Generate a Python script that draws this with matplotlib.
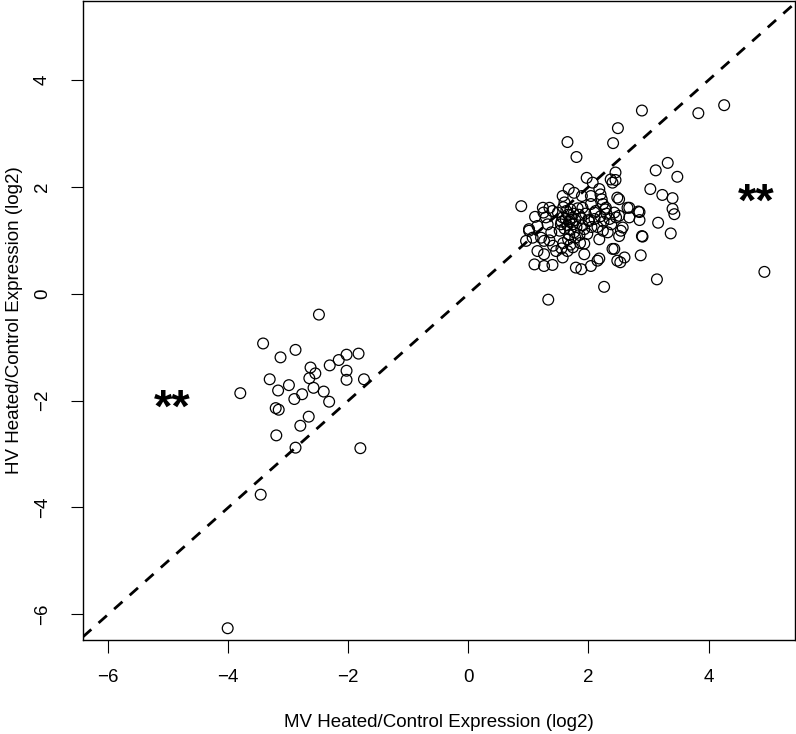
import matplotlib
matplotlib.use('Agg')
import matplotlib.pyplot as plt

# MV (x) vs HV (y) heated/control expression, log2
# down-regulated group
down_mv = [-2.49, -3.42, -2.88, -3.13, -1.83, -2.03, -2.16, -2.31, -2.63, -2.55,
           -2.65, -2.03, -2.03, -1.74, -3.31, -3.80, -2.99, -3.17, -2.77, -2.90,
           -2.58, -2.41, -2.32, -3.21, -3.16, -2.66, -2.80, -3.20, -2.88, -1.80,
           -3.46, -4.01]
down_hv = [-0.39, -0.93, -1.05, -1.19, -1.12, -1.14, -1.24, -1.34, -1.38, -1.49,
           -1.58, -1.44, -1.61, -1.60, -1.60, -1.86, -1.71, -1.81, -1.88, -1.97,
           -1.76, -1.83, -2.02, -2.14, -2.17, -2.30, -2.47, -2.65, -2.88, -2.89,
           -3.76, -6.26]

# up-regulated group
up_mv = [2.89, 3.83, 4.26, 2.49, 1.65, 2.41, 1.80, 3.32, 3.12, 3.48,
         2.45, 2.45, 2.37, 2.40, 1.97, 2.07, 3.03, 3.23, 3.40, 3.40,
         3.43, 2.85, 2.85, 2.68, 2.68, 3.16, 3.37, 2.89, 2.87, 3.14,
         4.93, 2.26, 1.33,
         1.58, 1.63, 1.70, 1.66, 1.75, 1.72, 1.62, 1.68, 1.78, 1.74,
         1.65, 1.80, 1.70, 1.60, 1.76, 1.68, 1.84, 1.82, 1.55, 1.52,
         1.88, 1.90, 1.95, 2.00, 2.05, 1.85, 1.78, 1.66, 1.58, 1.70,
         1.86, 1.98, 2.10, 2.12, 2.20, 2.25, 2.15, 2.28, 2.35, 2.38,
         2.30,
         1.11, 1.29, 1.40, 1.57, 1.24, 1.35, 1.25, 1.49, 1.15, 1.01,
         1.32, 1.38, 1.54, 0.88,
         1.01, 0.96, 1.07, 1.21, 1.26, 1.35, 1.41, 1.46, 1.15, 1.26,
         1.10, 1.26, 1.40, 1.57,
         1.74, 1.93, 1.79, 1.88, 2.04, 2.15, 2.18, 2.40, 2.48, 2.43,
         2.60, 2.53, 1.93, 2.18, 2.24, 2.32, 1.65, 1.55,
         2.51, 2.65, 2.83, 2.51, 2.46, 2.57, 2.54, 2.51, 2.90,
         1.67, 1.76, 1.89, 2.04, 2.18, 2.20, 2.22, 2.24, 2.48, 1.57,
         1.60, 1.90, 2.04, 2.10, 2.29, 2.43, 2.01, 1.93]
up_hv = [3.43, 3.38, 3.53, 3.10, 2.84, 2.82, 2.56, 2.45, 2.31, 2.19,
         2.27, 2.13, 2.14, 2.08, 2.17, 2.08, 1.96, 1.85, 1.79, 1.59,
         1.49, 1.53, 1.38, 1.61, 1.43, 1.33, 1.13, 1.08, 0.72, 0.27,
         0.41, 0.13, -0.11,
         1.62, 1.55, 1.58, 1.48, 1.50, 1.42, 1.40, 1.35, 1.38, 1.30,
         1.28, 1.25, 1.20, 1.22, 1.15, 1.10, 1.48, 1.60, 1.35, 1.18,
         1.42, 1.28, 1.50, 1.38, 1.25, 1.10, 1.05, 1.02, 0.95, 0.92,
         0.95, 1.12, 1.40, 1.55, 1.45, 1.35, 1.25, 1.58, 1.40, 1.30,
         1.50,
         1.44, 1.43, 1.55, 1.43, 1.61, 1.61, 1.52, 1.52, 1.27, 1.21,
         1.30, 1.15, 1.30, 1.64,
         1.18, 0.99, 1.05, 1.05, 0.99, 1.00, 0.90, 0.80, 0.80, 0.74,
         0.55, 0.52, 0.54, 0.68,
         0.87, 0.74, 0.49, 0.46, 0.52, 0.62, 0.66, 0.84, 0.62, 0.84,
         0.68, 0.59, 0.94, 1.02, 1.18, 1.15, 0.80, 0.85,
         1.77, 1.61, 1.54, 1.46, 1.43, 1.24, 1.18, 1.08, 1.07,
         1.96, 1.89, 1.83, 1.83, 1.96, 1.86, 1.77, 1.68, 1.80, 1.83,
         1.71, 1.61, 1.68, 1.52, 1.61, 1.52, 1.36, 1.21]

ticks = [-6, -4, -2, 0, 2, 4]

plt.rcParams['font.family'] = ['Liberation Sans', 'DejaVu Sans']

fig = plt.figure(figsize=(7.96, 7.34), dpi=100)
ax = fig.add_axes([83 / 796, 94 / 734, 712 / 796, 639 / 734])

ax.axline((0, 0), slope=1, color='black', lw=2, ls=(0, (4, 3.5)), zorder=1)
ax.scatter(down_mv + up_mv, down_hv + up_hv, s=60, facecolors='none',
           edgecolors='black', linewidths=0.9, zorder=2)

# significance marks
ax.text(-4.93, -2.17, '**', fontsize=34, fontweight='bold',
        ha='center', va='center')
ax.text(4.79, 1.68, '**', fontsize=34, fontweight='bold',
        ha='center', va='center')

ax.set_xlim(-6.42, 5.44)
ax.set_ylim(-6.48, 5.48)
ax.set_xticks(ticks)
ax.set_yticks(ticks)
ax.tick_params(direction='out', length=9, width=0.8, labelsize=13.5)
ax.tick_params(axis='x', pad=12)
ax.tick_params(axis='y', pad=14)
for lbl in ax.get_yticklabels():
    lbl.set_rotation(90)
    lbl.set_va('center')
for s in ax.spines.values():
    s.set_linewidth(1)

ax.set_xlabel('MV Heated/Control Expression (log2)', fontsize=13.5, labelpad=20)
ax.set_ylabel('HV Heated/Control Expression (log2)', fontsize=13.5, labelpad=8)

fig.savefig('out.png', dpi=100)
